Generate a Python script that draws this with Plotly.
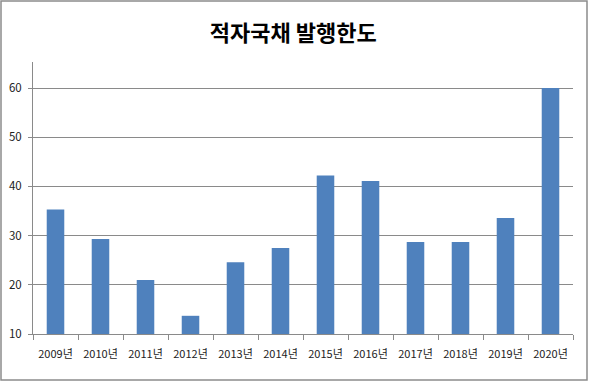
import plotly.graph_objects as go

years = ["2009년", "2010년", "2011년", "2012년", "2013년", "2014년",
         "2015년", "2016년", "2017년", "2018년", "2019년", "2020년"]
values = [35.3, 29.3, 21.0, 13.7, 24.6, 27.5, 42.2, 41.1, 28.7, 28.7, 33.6, 60.0]
y_ticks = [10, 20, 30, 40, 50, 60]
baseline = 10
title_text = "적자국채 발행한도"

W, H = 601, 384
L, R, T, B = 33, 28, 62, 50
pw, ph = W - L - R, H - T - B

def px_x(p):
    return (p - L) / pw

def px_y(p):
    return (H - B - p) / ph

fig = go.Figure()
fig.add_trace(go.Bar(
    x=years, y=[v - baseline for v in values],
    base=baseline,
    marker=dict(color="#4F81BD", line=dict(width=0)),
))

fig.update_layout(
    width=W, height=H,
    margin=dict(l=L, r=R, t=T, b=B),
    paper_bgcolor="white", plot_bgcolor="white",
    bargap=0.61,
    showlegend=False,
    font=dict(family="Noto Sans CJK KR, Noto Sans, sans-serif", size=11, color="#333333"),
    title=dict(
        text=f"<b>{title_text}</b>",
        x=0.488, xref="container", xanchor="center",
        y=1 - 33 / H, yref="container", yanchor="middle",
        font=dict(family="Noto Sans CJK KR", size=22, color="#000000"),
    ),
    shapes=[dict(
        type="rect", xref="paper", yref="paper",
        x0=px_x(1), x1=px_x(587), y0=px_y(380), y1=px_y(1),
        line=dict(color="#8c8c8c", width=1.5), fillcolor="rgba(0,0,0,0)",
        layer="below",
    )],
)
fig.update_xaxes(
    type="category",
    showline=True, linecolor="#8a8a8a", linewidth=1,
    ticks="outside", ticklen=5, tickcolor="#8a8a8a",
    tickson="boundaries",
    showgrid=False,
    tickangle=0,
    automargin=False,
    tickfont=dict(size=11, color="#222222"),
    ticklabelstandoff=10,
)
fig.update_yaxes(
    range=[10, 65.3],
    tickvals=y_ticks,
    showline=True, linecolor="#8a8a8a", linewidth=1,
    ticks="outside", ticklen=4, tickcolor="#8a8a8a",
    showgrid=True, gridcolor="#8a8a8a", gridwidth=1,
    zeroline=False,
    automargin=False,
    tickfont=dict(size=11.5, color="#222222"),
    ticklabelstandoff=4,
)

fig.write_html(
    "out.html",
    config={"displayModeBar": False},
    post_script="document.body.style.margin='0';document.body.style.overflow='hidden';",
)
